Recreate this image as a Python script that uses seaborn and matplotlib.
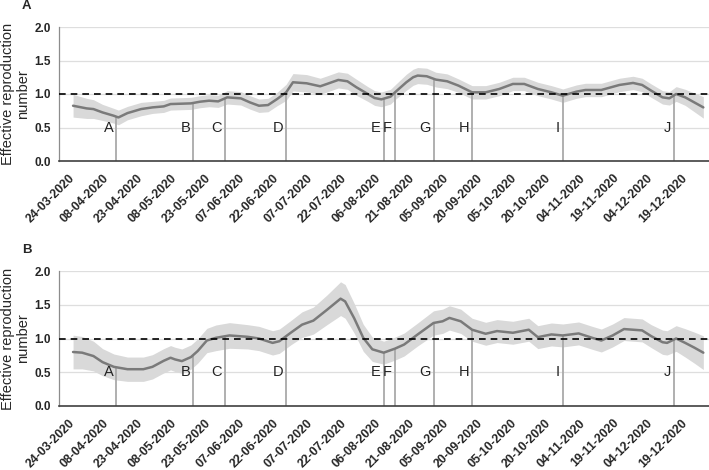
import numpy as np
import pandas as pd
import matplotlib
matplotlib.use("Agg")
import matplotlib.pyplot as plt
import seaborn as sns

# ---------------- data ----------------
start_date = "2020-03-24"
tick_labels = ["24-03-2020", "08-04-2020", "23-04-2020", "08-05-2020", "23-05-2020",
               "07-06-2020", "22-06-2020", "07-07-2020", "22-07-2020", "06-08-2020",
               "21-08-2020", "05-09-2020", "20-09-2020", "05-10-2020", "20-10-2020",
               "04-11-2020", "19-11-2020", "04-12-2020", "19-12-2020"]

event_labels = ["A", "B", "C", "D", "E", "F", "G", "H", "I", "J"]
event_dates = ["12-04-2020", "16-05-2020", "30-05-2020", "26-06-2020", "08-08-2020",
               "13-08-2020", "30-08-2020", "16-09-2020", "26-10-2020", "14-12-2020"]

# Panel A (days since 24-03-2020, estimate, half width of band)
days_a = [0, 6, 9, 13, 18, 20, 24, 30, 35, 40, 43, 52, 56, 60, 64, 68, 74, 78, 82, 86,
          90, 94, 97, 103, 109, 112, 117, 121, 125, 130, 133, 136, 140, 142, 147, 150,
          152, 156, 160, 165, 170, 176, 182, 188, 194, 199, 205, 211, 216, 222, 226,
          233, 241, 247, 251, 255, 260, 263, 266, 270, 274, 278]
r_a = [0.825, 0.785, 0.775, 0.725, 0.675, 0.65, 0.715, 0.775, 0.80, 0.815, 0.85, 0.86,
       0.885, 0.90, 0.89, 0.95, 0.935, 0.875, 0.825, 0.835, 0.925, 1.025, 1.175, 1.16,
       1.115, 1.15, 1.21, 1.19, 1.10, 1.00, 0.94, 0.92, 0.96, 1.025, 1.175, 1.25, 1.275,
       1.265, 1.215, 1.19, 1.125, 1.025, 1.025, 1.075, 1.15, 1.15, 1.075, 1.025, 0.975,
       1.035, 1.06, 1.06, 1.135, 1.165, 1.135, 1.05, 0.95, 0.935, 1.00, 0.95, 0.875, 0.80]
hw_a = [0.17, 0.15, 0.14, 0.12, 0.11, 0.11, 0.10, 0.10, 0.09, 0.09, 0.09, 0.09, 0.09,
        0.09, 0.09, 0.10, 0.10, 0.10, 0.10, 0.10, 0.10, 0.12, 0.13, 0.13, 0.12, 0.12,
        0.12, 0.12, 0.12, 0.11, 0.11, 0.11, 0.11, 0.11, 0.12, 0.12, 0.12, 0.12, 0.11,
        0.11, 0.10, 0.10, 0.10, 0.10, 0.10, 0.10, 0.10, 0.10, 0.10, 0.10, 0.10, 0.10,
        0.10, 0.10, 0.10, 0.10, 0.10, 0.10, 0.11, 0.12, 0.14, 0.16]

# Panel B
days_b = [0, 4, 9, 13, 18, 24, 31, 35, 40, 43, 45, 48, 52, 55, 59, 63, 69, 77, 82, 88,
          91, 96, 101, 106, 112, 118, 120, 124, 128, 132, 137, 142, 146, 152, 159, 163,
          166, 171, 176, 182, 187, 194, 201, 205, 211, 216, 223, 229, 233, 238, 243,
          251, 255, 260, 262, 266, 270, 274, 278]
r_b = [0.80, 0.79, 0.74, 0.65, 0.58, 0.545, 0.545, 0.58, 0.67, 0.715, 0.69, 0.665,
       0.725, 0.815, 0.97, 1.01, 1.045, 1.025, 1.00, 0.935, 0.96, 1.085, 1.205, 1.265,
       1.425, 1.59, 1.55, 1.30, 1.01, 0.84, 0.79, 0.85, 0.91, 1.06, 1.23, 1.255, 1.305,
       1.255, 1.13, 1.07, 1.11, 1.085, 1.13, 1.02, 1.06, 1.045, 1.075, 1.01, 0.97,
       1.045, 1.14, 1.12, 1.035, 0.945, 0.935, 1.00, 0.935, 0.865, 0.79]
hw_b = [0.25, 0.24, 0.22, 0.20, 0.19, 0.18, 0.18, 0.18, 0.18, 0.18, 0.18, 0.18, 0.18,
        0.18, 0.18, 0.19, 0.19, 0.18, 0.18, 0.18, 0.18, 0.18, 0.19, 0.20, 0.22, 0.25,
        0.25, 0.22, 0.20, 0.18, 0.17, 0.17, 0.17, 0.17, 0.18, 0.18, 0.18, 0.18, 0.17,
        0.17, 0.17, 0.17, 0.17, 0.17, 0.17, 0.17, 0.17, 0.17, 0.17, 0.17, 0.17, 0.17,
        0.17, 0.18, 0.18, 0.19, 0.21, 0.23, 0.25]

panels = [("A", days_a, r_a, hw_a), ("B", days_b, r_b, hw_b)]

# ---------------- style ----------------
sns.set_style("white")
plt.rcParams["font.family"] = ["Liberation Sans", "DejaVu Sans"]

W, H = 709, 470
fig = plt.figure(figsize=(W / 100, H / 100), dpi=100)

start = pd.Timestamp(start_date)
tick_pos = pd.to_datetime(tick_labels, format="%d-%m-%Y")
ev_pos = pd.to_datetime(event_dates, format="%d-%m-%Y")
xmin = start - pd.Timedelta(days=6.2)
xmax = start + pd.Timedelta(days=280.5)

# axes rectangles in pixels: (left, top_px of 2.0, bottom_px of 0.0)
rects = [(59, 27, 161), (59, 271, 406)]

line_col = "#7a7a7a"
band_col = "#d9d9d9"
ev_col = "#a9a9a9"

for (name, days, r, hw), (lx, ty, by) in zip(panels, rects):
    ax = fig.add_axes([lx / W, 1 - by / H, (W - lx) / W, (by - ty) / H])
    dates = start + pd.to_timedelta(days, unit="D")
    r = np.asarray(r)
    hw = np.asarray(hw)
    df = pd.DataFrame({"date": dates, "R": r})

    for yv in [0.5, 1.0, 1.5, 2.0]:
        ax.axhline(yv, color="#dedede", lw=0.9, zorder=0)
    ax.fill_between(dates, r - hw, r + hw, color=band_col, lw=0, zorder=1)
    sns.lineplot(data=df, x="date", y="R", ax=ax, color=line_col, lw=1.8, zorder=3)
    ax.axhline(1.0, color="black", lw=1.2, ls=(0, (4, 3)), zorder=4)

    day_num = np.asarray(days, dtype=float)
    for lab, ep in zip(event_labels, ev_pos):
        d = (ep - start).days
        top = np.interp(d, day_num, r)
        ax.vlines(ep, 0, top, color=ev_col, lw=1.3, zorder=2)
        ax.annotate(lab, xy=(ep, 0.5), xytext=(-2, 0), textcoords="offset points",
                    ha="right", va="center", fontsize=10.5, color="#222222", zorder=5)

    ax.set_xlim(xmin, xmax)
    ax.set_ylim(0, 2.0)
    ax.set_yticks([0.0, 0.5, 1.0, 1.5, 2.0])
    ax.set_yticklabels(["0.0", "0.5", "1.0", "1.5", "2.0"], fontweight="bold", fontsize=8.5)
    ax.set_xticks(tick_pos)
    ax.set_xticklabels(tick_labels, rotation=45, ha="right", va="center",
                       rotation_mode="anchor", fontweight="bold", fontsize=8.8)
    ax.tick_params(axis="both", length=0)
    ax.tick_params(axis="x", pad=11)
    ax.tick_params(axis="y", pad=6)
    ax.set_xlabel("")
    ax.set_ylabel("Effective reproduction\nnumber", fontsize=10.5, labelpad=3,
                  linespacing=1.05)
    for s in ["top", "right"]:
        ax.spines[s].set_visible(False)
    ax.spines["left"].set_color("#8c8c8c")
    ax.spines["left"].set_linewidth(0.9)
    ax.spines["bottom"].set_color("#404040")
    ax.spines["bottom"].set_linewidth(1.2)
    ax.set_facecolor("white")
    ax.patch.set_alpha(0)

    fig.text(22 / W, 1 - (ty - 21) / H, name, fontsize=9.5, fontweight="bold",
             ha="left", va="center")

fig.savefig("out.png", dpi=100, facecolor="white")
